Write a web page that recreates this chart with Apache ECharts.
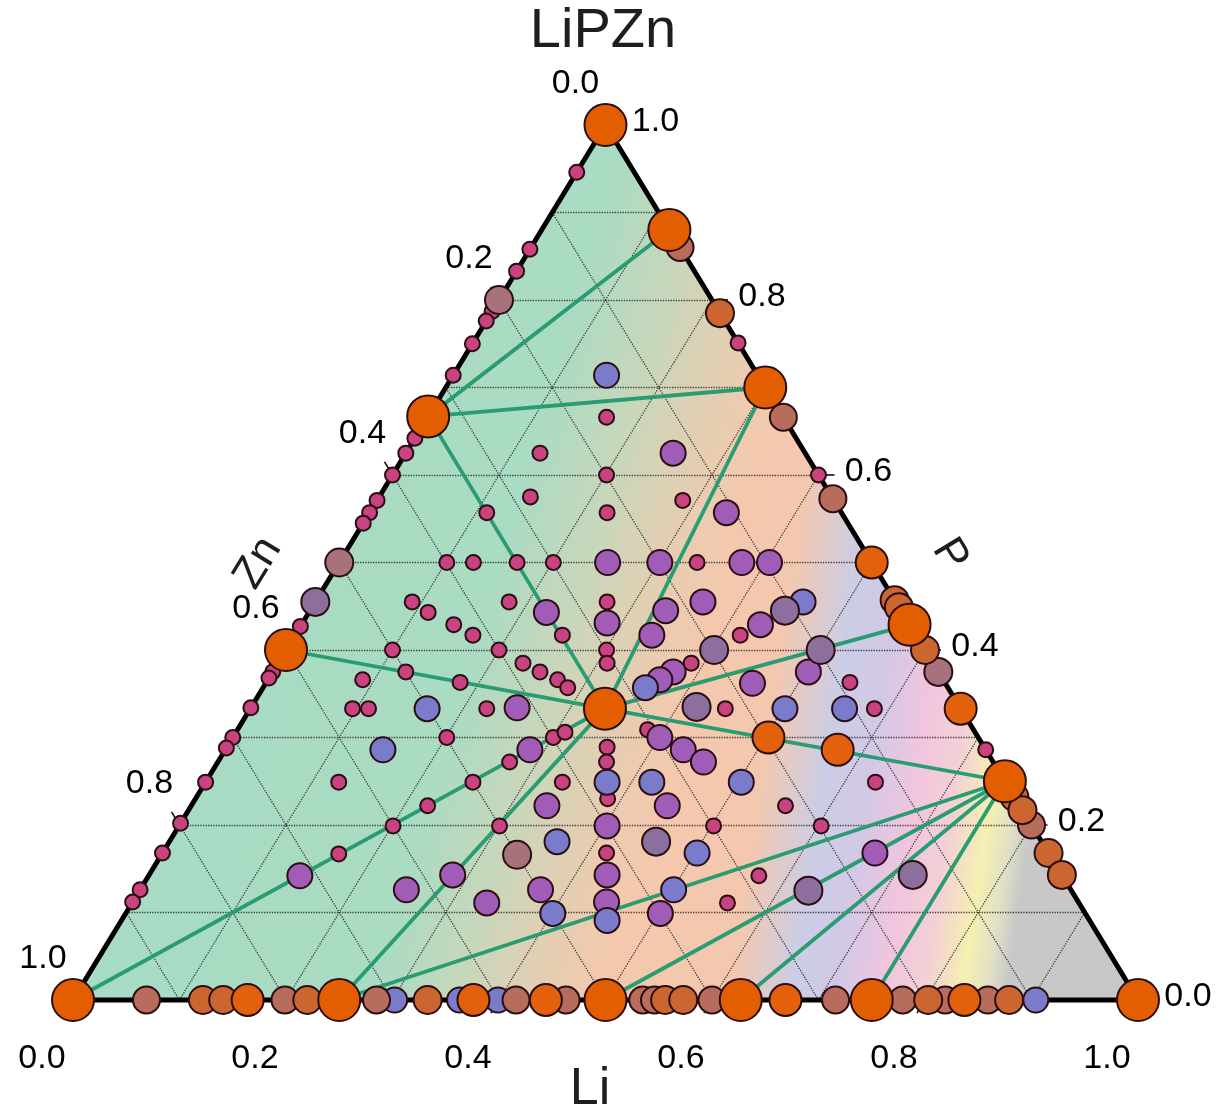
<!DOCTYPE html>
<html>
<head>
<meta charset="utf-8">
<title>Li-P-Zn ternary</title>
<script src="https://cdn.jsdelivr.net/npm/echarts@6/dist/echarts.min.js"></script>
<style>
  html, body { margin: 0; padding: 0; background: #fff; }
  #chart { width: 1221px; height: 1111px; }
</style>
</head>
<body>
<div id="chart"></div>
<script>
// every composition is [Li, P]; Zn = 1 - Li - P
const stableBig = [
  [0, 1], [0.12, 0.88], [0.30, 0.70], [0, 0.667], [0, 0.40], [0.333, 0.333],
  [0.571, 0.429], [0.75, 0.25], [0, 0], [1, 0], [0.25, 0], [0.5, 0], [0.627, 0], [0.75, 0]
]
const orangeL = [
  [0.5, 0.5], [0.667, 0.333], [0.503, 0.30], [0.575, 0.286],
  [0.164, 0], [0.376, 0], [0.444, 0], [0.669, 0], [0.837, 0]
]
const orangeBrown = [
  [0.215, 0.785], [0.6, 0.4], [0.543, 0.457], [0.551, 0.449], [0.768, 0.232], [0.783, 0.217],
  [0.832, 0.168], [0.857, 0.143],
  [0.122, 0], [0.141, 0], [0.22, 0], [0.333, 0], [0.556, 0], [0.573, 0], [0.803, 0], [0.879, 0]
]
const brown = [
  [0.14, 0.86], [0.334, 0.666], [0.427, 0.573], [0.80, 0.20],
  [0.069, 0], [0.199, 0], [0.285, 0], [0.416, 0], [0.463, 0], [0.535, 0], [0.546, 0],
  [0.60, 0], [0.716, 0], [0.779, 0], [0.819, 0], [0.859, 0]
]
const mauve = [[0.625, 0.375], [0, 0.80], [0, 0.50], [0.334, 0.166]]
const greyPurple = [
  [0, 0.455], [0.446, 0.445], [0.402, 0.40], [0.502, 0.40], [0.418, 0.335],
  [0.457, 0.181], [0.628, 0.125], [0.717, 0.143]
]
const purple = [
  [0.251, 0.625], [0.335, 0.557], [0.252, 0.50], [0.301, 0.50], [0.378, 0.50], [0.404, 0.50],
  [0.223, 0.443], [0.286, 0.431], [0.335, 0.417], [0.334, 0.445], [0.364, 0.455], [0.431, 0.429],
  [0.376, 0.375], [0.457, 0.362], [0.503, 0.375], [0.368, 0.366], [0.25, 0.334], [0.286, 0.286],
  [0.401, 0.30], [0.43, 0.286], [0.456, 0.272], [0.334, 0.222], [0.447, 0.222], [0.402, 0.199],
  [0.43, 0.143], [0.445, 0.112], [0.285, 0.143], [0.25, 0.126], [0.376, 0.126], [0.333, 0.111],
  [0.502, 0.099], [0.142, 0.142], [0.669, 0.168]
]
const blueViolet = [
  [0.144, 0.714], [0.166, 0.333], [0.359, 0.357], [0.458, 0.455], [0.502, 0.333], [0.558, 0.333],
  [0.377, 0.249], [0.419, 0.249], [0.503, 0.249], [0.364, 0.181], [0.502, 0.168], [0.501, 0.126],
  [0.401, 0.099], [0.456, 0.091], [0.148, 0.286],
  [0.302, 0], [0.363, 0], [0.399, 0], [0.904, 0]
]
const smallDots = [
  [0.168, 0.666], [0.201, 0.60], [0.223, 0.557], [0.274, 0.455], [0.301, 0.40], [0.309, 0.385],
  [0.357, 0.289], [0.365, 0.272], [0.387, 0.23], [0.417, 0.168], [0.126, 0.625], [0.142, 0.575],
  [0.110, 0.557], [0.287, 0.571], [0.336, 0.50], [0.101, 0.50], [0.126, 0.50], [0.167, 0.50],
  [0.201, 0.50], [0.091, 0.455], [0.112, 0.443], [0.182, 0.455], [0.143, 0.429], [0.167, 0.417],
  [0.251, 0.417], [0.418, 0.417], [0.10, 0.40], [0.20, 0.40], [0.230, 0.385], [0.251, 0.375],
  [0.272, 0.366], [0.286, 0.357], [0.089, 0.366], [0.125, 0.375], [0.182, 0.363], [0.388, 0.385],
  [0.364, 0.368], [0.548, 0.363], [0.096, 0.333], [0.111, 0.333], [0.222, 0.333], [0.446, 0.333],
  [0.586, 0.333], [0.201, 0.30], [0.301, 0.30], [0.309, 0.306], [0.274, 0.272], [0.385, 0.309],
  [0.251, 0.249], [0.335, 0.249], [0.629, 0.249], [0.125, 0.249], [0.222, 0.222], [0.558, 0.222],
  [0.201, 0.199], [0.301, 0.199], [0.502, 0.199], [0.603, 0.199], [0.166, 0.167], [0.573, 0.142],
  [0.559, 0.111],
  [0, 0.946], [0, 0.858], [0, 0.833], [0, 0.787], [0, 0.776], [0, 0.75], [0, 0.714], [0, 0.642],
  [0, 0.625], [0, 0.60], [0, 0.571], [0, 0.557], [0, 0.545], [0, 0.427], [0, 0.375], [0, 0.368],
  [0, 0.334], [0, 0.30], [0, 0.288], [0, 0.249], [0, 0.202], [0, 0.168], [0, 0.126], [0, 0.112],
  [0.249, 0.751], [0.40, 0.60], [0.714, 0.286]
]
const tieLines = [
  [[0.12, 0.88], [0, 0.667]], [[0.30, 0.70], [0, 0.667]], [[0, 0.667], [0.333, 0.333]],
  [[0.30, 0.70], [0.333, 0.333]], [[0, 0.40], [0.333, 0.333]], [[0.571, 0.429], [0.333, 0.333]],
  [[0.75, 0.25], [0.333, 0.333]], [[0, 0], [0.333, 0.333]], [[0.25, 0], [0.333, 0.333]],
  [[0.75, 0.25], [0.25, 0]], [[0.75, 0.25], [0.5, 0]], [[0.75, 0.25], [0.627, 0]], [[0.75, 0.25], [0.75, 0]]
]
const tickValues = [0, 0.2, 0.4, 0.6, 0.8, 1.0]
const gridSteps = [0.1, 0.2, 0.3, 0.4, 0.5, 0.6, 0.7, 0.8, 0.9]
const corners = [[0, 0], [1, 0], [0, 1]]

// ternary [Li, P] -> cartesian [x, y] inside the unit box
const toXY = p => [p[0] + p[1] / 2, p[1]]

const gridSegments = []
gridSteps.forEach(v => {
  gridSegments.push({ coords: [toXY([0, v]), toXY([1 - v, v])] })   // const P
  gridSegments.push({ coords: [toXY([v, 0]), toXY([v, 1 - v])] })   // const Li
  gridSegments.push({ coords: [toXY([1 - v, 0]), toXY([0, 1 - v])] }) // const Zn
})

const d = 0.015
const tickSegments = []
tickValues.forEach(v => {
  tickSegments.push({ coords: [toXY([v, 0]), toXY([v, -d])] })
  tickSegments.push({ coords: [toXY([0, 1 - v]), toXY([-d, 1 - v + d])] })
  tickSegments.push({ coords: [toXY([1 - v, v]), toXY([1 - v + d, v])] })
})

// right-hand colour bands (peach -> blue -> pink -> yellow -> grey)
const bandGradient = new echarts.graphic.LinearGradient(0, 0, 1, 0.18, [
  { offset: 0, color: '#f5caa8' },
  { offset: 0.72, color: '#f4c8ae' },
  { offset: 0.78, color: '#cbcde6' },
  { offset: 0.82, color: '#d3c8e6' },
  { offset: 0.865, color: '#f1c5de' },
  { offset: 0.90, color: '#f3d0d6' },
  { offset: 0.935, color: '#f5f0b0' },
  { offset: 0.958, color: '#e0e0c6' },
  { offset: 0.975, color: '#c8c8c8' },
  { offset: 1, color: '#c8c8c8' }
])
// green wash on the Zn-rich side, fading out toward the middle
const greenGradient = new echarts.graphic.LinearGradient(0, 0, 1, 0.36, [
  { offset: 0, color: 'rgba(166,220,196,1)' },
  { offset: 0.48, color: 'rgba(170,219,195,1)' },
  { offset: 0.56, color: 'rgba(190,218,190,0.8)' },
  { offset: 0.62, color: 'rgba(205,214,186,0.45)' },
  { offset: 0.68, color: 'rgba(220,212,184,0)' },
  { offset: 1, color: 'rgba(220,212,184,0)' }
])

const dotBorder = { borderColor: '#2a0e14', borderWidth: 2 }
const dotSeries = (name, data, color, size) => ({
  name,
  type: 'scatter',
  data: data.map(toXY),
  symbol: 'circle',
  symbolSize: size,
  clip: false,
  silent: true,
  itemStyle: Object.assign({ color, opacity: 1 }, dotBorder),
  z: 5
})

const labelFont = { fontSize: 34, color: '#000', opacity: 1, fontFamily: 'Liberation Sans, Arial, sans-serif', textBorderWidth: 0 }
const labelSeries = (data, offset) => ({
  type: 'scatter',
  data,
  symbolSize: 0,
  clip: false,
  silent: true,
  itemStyle: { color: '#000', opacity: 1 },
  label: Object.assign({ show: true, position: 'inside', offset, formatter: p => p.data[2] }, labelFont),
  z: 6
})

const triangleLayer = (fill, z) => ({
  type: 'custom',
  data: [[0.5, 0.5]],
  clip: false,
  silent: true,
  z,
  renderItem: (params, api) => ({
    type: 'polygon',
    shape: { points: corners.map(c => api.coord(toXY(c))) },
    style: { fill }
  })
})

const chart = echarts.init(document.getElementById('chart'))
chart.setOption({
  animation: false,
  backgroundColor: '#ffffff',
  grid: { left: 73, right: 83, top: 125, bottom: 111 },
  xAxis: { type: 'value', min: 0, max: 1, show: false },
  yAxis: { type: 'value', min: 0, max: 1, show: false },
  series: [
    triangleLayer(bandGradient, 0),
    triangleLayer(greenGradient, 0),
    {
      type: 'lines',
      coordinateSystem: 'cartesian2d',
      data: gridSegments,
      clip: false,
      silent: true,
      lineStyle: { color: '#2e2e2e', width: 1.3, type: 'dotted', opacity: 0.9 },
      z: 1
    },
    {
      type: 'lines',
      coordinateSystem: 'cartesian2d',
      data: tieLines.map(l => ({ coords: l.map(toXY) })),
      clip: false,
      silent: true,
      lineStyle: { color: '#2a9c72', width: 3.8, opacity: 1 },
      z: 2
    },
    {
      type: 'lines',
      coordinateSystem: 'cartesian2d',
      polyline: true,
      data: [{ coords: corners.concat([corners[0]]).map(toXY) }],
      clip: false,
      silent: true,
      lineStyle: { color: '#000', width: 5, opacity: 1, join: 'round' },
      z: 3
    },
    {
      type: 'lines',
      coordinateSystem: 'cartesian2d',
      data: tickSegments,
      clip: false,
      silent: true,
      lineStyle: { color: '#111', width: 1.6, opacity: 1 },
      z: 3
    },
    dotSeries('small', smallDots, '#c8437f', 15),
    dotSeries('purple', purple, '#a15cb8', 25),
    dotSeries('blueViolet', blueViolet, '#7b7bcb', 25),
    dotSeries('greyPurple', greyPurple, '#8c6f9d', 28),
    dotSeries('mauve', mauve, '#a8727c', 28),
    dotSeries('brown', brown, '#b86d5c', 27),
    dotSeries('orangeBrown', orangeBrown, '#cc6630', 28),
    dotSeries('orange', orangeL, '#e3600c', 32),
    dotSeries('stable', stableBig, '#e35e00', 42),
    labelSeries(tickValues.map(v => toXY([v, 0]).concat([v.toFixed(1)])), [-31, 59]),
    labelSeries(tickValues.map(v => toXY([0, 1 - v]).concat([v.toFixed(1)])), [-30, -41]),
    labelSeries(tickValues.map(v => toXY([1 - v, v]).concat([v.toFixed(1)])), [50, -3])
  ],
  graphic: [
    { type: 'text', x: 603, y: 32, style: { text: 'LiPZn', font: '56px "Liberation Sans", Arial, sans-serif', fill: '#1e1e1e', textAlign: 'center', textVerticalAlign: 'middle', align: 'center', verticalAlign: 'middle' } },
    { type: 'text', x: 590, y: 1090, style: { text: 'Li', font: '52px "Liberation Sans", Arial, sans-serif', fill: '#1e1e1e', textAlign: 'center', textVerticalAlign: 'middle', align: 'center', verticalAlign: 'middle' } },
    { type: 'text', x: 258, y: 563, rotation: 1.02, style: { text: 'Zn', font: '44px "Liberation Sans", Arial, sans-serif', fill: '#1e1e1e', textAlign: 'center', textVerticalAlign: 'middle', align: 'center', verticalAlign: 'middle' } },
    { type: 'text', x: 950, y: 555, rotation: -1.02, style: { text: 'P', font: '44px "Liberation Sans", Arial, sans-serif', fill: '#1e1e1e', textAlign: 'center', textVerticalAlign: 'middle', align: 'center', verticalAlign: 'middle' } }
  ]
})
</script>
</body>
</html>
